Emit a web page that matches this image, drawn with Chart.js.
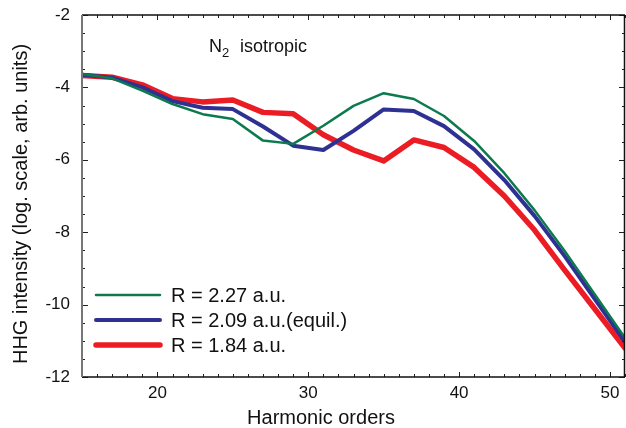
<!DOCTYPE html>
<html>
<head>
<meta charset="utf-8">
<title>HHG intensity</title>
<script src="https://cdn.jsdelivr.net/npm/chart.js@4/dist/chart.umd.min.js"></script>
<style>
  html, body { margin: 0; padding: 0; background: #fff; }
  canvas { display: block; }
</style>
</head>
<body>
<canvas id="hhgChart" width="626" height="428"></canvas>
<script>
// harmonic orders (odd harmonics)
const harmonics = [15, 17, 19, 21, 23, 25, 27, 29, 31, 33, 35, 37, 39, 41, 43, 45, 47, 49, 51];

// log intensity for each internuclear distance
const r227 = [-3.63, -3.75, -4.09, -4.46, -4.74, -4.87, -5.47, -5.56, -5.06, -4.51, -4.16, -4.32, -4.79, -5.48, -6.37, -7.39, -8.52, -9.72, -10.92];
const r209 = [-3.65, -3.73, -4.00, -4.38, -4.56, -4.60, -5.08, -5.61, -5.73, -5.20, -4.61, -4.65, -5.07, -5.71, -6.56, -7.55, -8.66, -9.85, -11.03];
const r184 = [-3.67, -3.72, -3.93, -4.31, -4.40, -4.35, -4.69, -4.73, -5.31, -5.73, -6.03, -5.45, -5.66, -6.21, -7.00, -7.94, -9.05, -10.12, -11.20];

const seriesLabels = ['R = 2.27 a.u.', 'R = 2.09 a.u.(equil.)', 'R = 1.84 a.u.'];
const seriesColors = ['#0d7a4e', '#2e3192', '#ec1c24'];
const seriesWidths = [2.5, 4, 5.5];

const xTicks = [20, 30, 40, 50];
const yTicks = [-2, -4, -6, -8, -10, -12];

const FONT = '"Liberation Sans", Arial, Helvetica, sans-serif';

const toPoints = (vals) => harmonics.map((h, i) => ({ x: h, y: vals[i] }));

// no extra room for overhanging tick labels, the plot box is fixed
const noOverhang = (s) => {
    s.paddingTop = 0; s.paddingBottom = 0;
    s.paddingLeft = 0; s.paddingRight = 0;
};

// frame, inward ticks, legend, axis titles, annotation
const decorations = {
    id: 'decorations',
    afterDraw(chart) {
        const ctx = chart.ctx;
        const { left, right, top, bottom } = chart.chartArea;
        const xs = chart.scales.x;
        const ys = chart.scales.y;
        ctx.save();

        // inward minor/major ticks on all four sides
        ctx.strokeStyle = '#222';
        ctx.lineWidth = 1;
        ctx.beginPath();
        for (let v = 15; v <= 51; v++) {
            const px = Math.round(xs.getPixelForValue(v)) + 0.5;
            const len = v % 10 === 0 ? 5 : 3;
            ctx.moveTo(px, bottom); ctx.lineTo(px, bottom - len);
            ctx.moveTo(px, top); ctx.lineTo(px, top + len);
        }
        for (let v = -12; v <= -2; v += 0.5) {
            const py = Math.round(ys.getPixelForValue(v)) + 0.5;
            const len = v % 2 === 0 ? 6 : 3;
            ctx.moveTo(left, py); ctx.lineTo(left + len, py);
            ctx.moveTo(right, py); ctx.lineTo(right - len, py);
        }
        ctx.stroke();

        // box
        ctx.strokeStyle = '#111';
        ctx.lineWidth = 1.5;
        ctx.beginPath();
        ctx.moveTo(left, bottom); ctx.lineTo(right, bottom);
        ctx.moveTo(left, top); ctx.lineTo(right, top);
        ctx.moveTo(right - 0.5, top); ctx.lineTo(right - 0.5, bottom);
        ctx.stroke();
        ctx.strokeStyle = '#777';
        ctx.lineWidth = 2;
        ctx.beginPath();
        ctx.moveTo(left, top); ctx.lineTo(left, bottom);
        ctx.stroke();

        // legend
        ctx.lineCap = 'round';
        ctx.textBaseline = 'middle';
        ctx.textAlign = 'left';
        ctx.fillStyle = '#111';
        ctx.font = '20px ' + FONT;
        seriesLabels.forEach((lab, i) => {
            const y = 295 + i * 25;
            ctx.strokeStyle = seriesColors[i];
            ctx.lineWidth = seriesWidths[i];
            ctx.beginPath();
            ctx.moveTo(96, y); ctx.lineTo(160, y);
            ctx.stroke();
            ctx.fillText(lab, 171, y + 1);
        });

        // axis titles
        ctx.textAlign = 'center';
        ctx.font = '20px ' + FONT;
        ctx.fillText('Harmonic orders', 321, 418);
        ctx.save();
        ctx.translate(21, 204);
        ctx.rotate(-Math.PI / 2);
        ctx.fillText('HHG intensity (log. scale, arb. units)', 0, 0);
        ctx.restore();

        // N2 isotropic
        ctx.textAlign = 'left';
        ctx.textBaseline = 'alphabetic';
        ctx.font = '18px ' + FONT;
        ctx.fillText('N', 209, 52);
        const nw = ctx.measureText('N').width;
        ctx.font = '13px ' + FONT;
        ctx.fillText('2', 209 + nw, 57);
        ctx.font = '18px ' + FONT;
        ctx.fillText('isotropic', 240, 52);
        ctx.restore();
    }
};

const chart = new Chart(document.getElementById('hhgChart'), {
    type: 'line',
    data: {
        datasets: [r227, r209, r184].map((vals, i) => ({
            label: seriesLabels[i],
            data: toPoints(vals),
            borderColor: seriesColors[i],
            backgroundColor: seriesColors[i],
            borderWidth: seriesWidths[i],
            borderJoinStyle: 'round',
            borderCapStyle: 'round',
            pointRadius: 0,
            tension: 0,
            fill: false
        }))
    },
    options: {
        responsive: false,
        animation: false,
        layout: { padding: { top: 15, right: 1, left: 0, bottom: 0 } },
        plugins: {
            legend: { display: false },
            tooltip: { enabled: false }
        },
        scales: {
            x: {
                type: 'linear',
                min: 15,
                max: 51,
                grid: { display: false, drawTicks: false },
                border: { display: false },
                afterBuildTicks: (s) => { s.ticks = xTicks.map(v => ({ value: v })); },
                afterFit: (s) => { s.height = 51; noOverhang(s); },
                ticks: {
                    color: '#111',
                    padding: 6,
                    maxRotation: 0,
                    font: { family: FONT, size: 17 }
                }
            },
            y: {
                type: 'linear',
                min: -12,
                max: -2,
                grid: { display: false, drawTicks: false },
                border: { display: false },
                afterBuildTicks: (s) => { s.ticks = yTicks.map(v => ({ value: v })); },
                afterFit: (s) => { s.width = 82; noOverhang(s); },
                ticks: {
                    color: '#111',
                    padding: 12,
                    font: { family: FONT, size: 17 }
                }
            }
        }
    },
    plugins: [decorations]
});
</script>
</body>
</html>
